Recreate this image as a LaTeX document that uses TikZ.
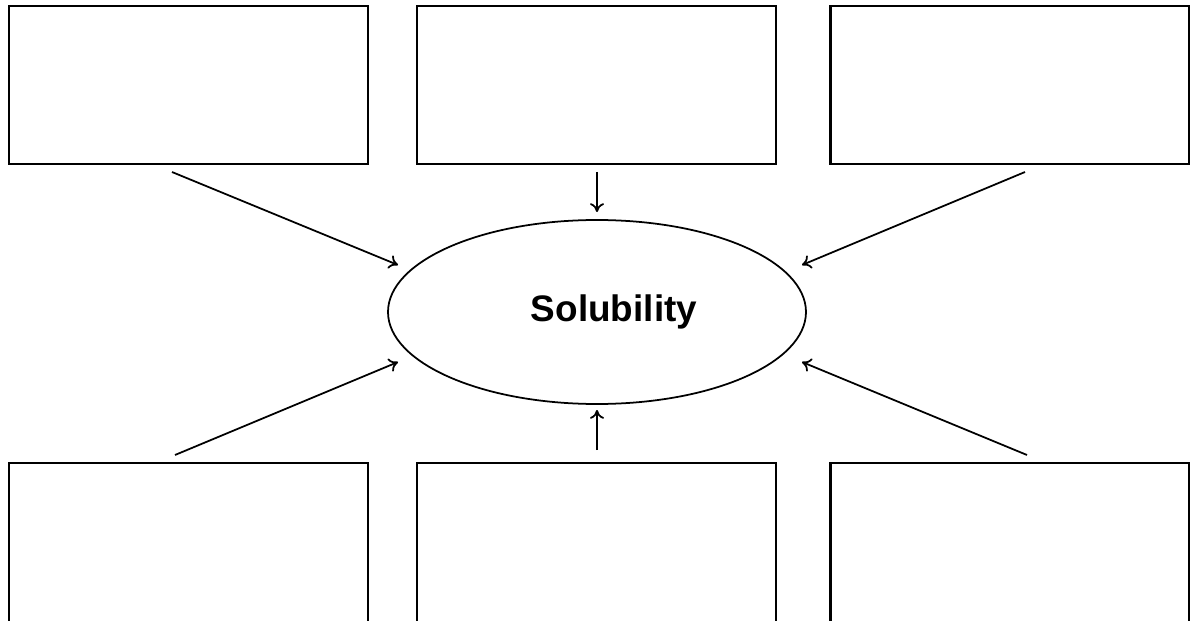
\documentclass[tikz,border=0pt]{standalone}
\usepackage{fontspec}
\setmainfont{Liberation Sans}
\usetikzlibrary{shapes.geometric,arrows.meta}

\begin{document}
\begin{tikzpicture}[
    box/.style={draw, line width=1.3pt, minimum width=7.18cm, minimum height=3.16cm, inner sep=0pt},
    lowbox/.style={box, minimum height=4.4cm},
    link/.style={line width=1pt, -{To[length=5pt,width=8pt]}}
  ]
  \useasboundingbox (0,0) rectangle (23.8,12.4);
  \clip (0,0) rectangle (23.8,12.4);

  % boxes above
  \node[box] (tl) at (3.77,10.70) {};
  \node[box] (tm) at (11.93,10.70) {};
  \node[box] (tr) at (20.20,10.70) {};
  % boxes below, cut at the page edge
  \node[lowbox] (bl) at (3.77,0.94) {};
  \node[lowbox] (bm) at (11.93,0.94) {};
  \node[lowbox] (br) at (20.20,0.94) {};

  \node[draw, ellipse, line width=1pt, minimum width=8.36cm, minimum height=3.68cm, inner sep=0pt,
        font=\bfseries\fontsize{21}{25}\selectfont] (sol) at (11.94,6.16) {\hspace*{0.68cm}\raisebox{2pt}{Solubility}};

  \coordinate (tl-a) at (3.44,8.96);   \coordinate (tl-b) at (7.96,7.10);
  \coordinate (tm-a) at (11.94,8.96);  \coordinate (tm-b) at (11.94,8.16);
  \coordinate (tr-a) at (20.50,8.96);  \coordinate (tr-b) at (16.04,7.10);
  \coordinate (bl-a) at (3.50,3.30);   \coordinate (bl-b) at (7.96,5.16);
  \coordinate (bm-a) at (11.94,3.40);  \coordinate (bm-b) at (11.94,4.20);
  \coordinate (br-a) at (20.54,3.30);  \coordinate (br-b) at (16.04,5.16);

  \draw[link] (tl-a) -- (tl-b);
  \draw[link] (tm-a) -- (tm-b);
  \draw[link] (tr-a) -- (tr-b);
  \draw[link] (bl-a) -- (bl-b);
  \draw[link] (bm-a) -- (bm-b);
  \draw[link] (br-a) -- (br-b);
\end{tikzpicture}
\end{document}
